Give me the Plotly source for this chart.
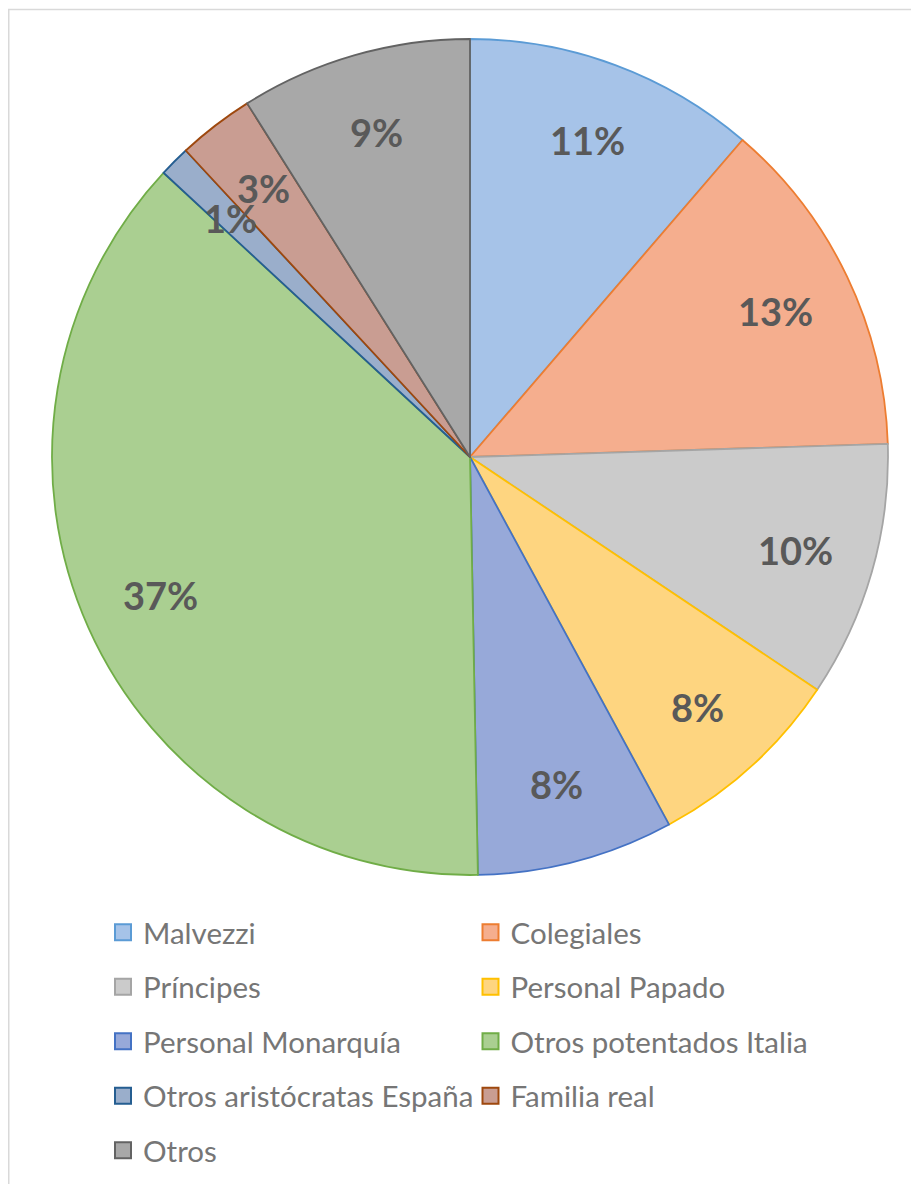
import math

import plotly.graph_objects as go

W, H = 919, 1184

labels = [
    "Malvezzi",
    "Colegiales",
    "Príncipes",
    "Personal Papado",
    "Personal Monarquía",
    "Otros potentados Italia",
    "Otros aristócratas España",
    "Familia real",
    "Otros",
]
values = [11.3, 13.2, 9.9, 7.7, 7.6, 37.2, 1.2, 2.95, 8.95]
fill_colors = [
    "#a6c3e8", "#f5ae8e", "#cbcbcb", "#fed580", "#97a9d9",
    "#aacf91", "#9aaecb", "#c99d92", "#a8a8a8",
]
line_colors = [
    "#5b9bd5", "#ed7d31", "#a5a5a5", "#ffc000", "#4472c4",
    "#70ad47", "#255e91", "#9e480e", "#636363",
]

# page body adds 8px, so positions below are in figure pixels
cx, cy, r = 462, 449, 418
label_r = 0.81

fig = go.Figure()
fig.add_trace(
    go.Pie(
        labels=labels,
        values=values,
        sort=False,
        direction="clockwise",
        rotation=0,
        marker=dict(colors=fill_colors, line=dict(color=line_colors, width=1.8)),
        textinfo="none",
        hoverinfo="skip",
        showlegend=False,
        domain=dict(
            x=[(cx - r) / W, (cx + r) / W],
            y=[1 - (cy + r) / H, 1 - (cy - r) / H],
        ),
    )
)

# Excel style data labels: at the mid angle of each slice, ~0.8 of the radius
total = sum(values)
annotations = []
acc = 0.0
for v in values:
    mid = (acc + v / 2) / total * 2 * math.pi
    acc += v
    px = cx + label_r * r * math.sin(mid)
    py = cy - label_r * r * math.cos(mid)
    annotations.append(
        dict(
            x=px / W,
            y=1 - py / H,
            xref="paper",
            yref="paper",
            text=f"{round(v / total * 100)}%",
            showarrow=False,
            xanchor="center",
            yanchor="middle",
            font=dict(family="Lato", size=38, color="#595959", weight="bold"),
        )
    )

# legend entries, two columns, one legend per entry so rows keep Excel spacing
col_x = [114, 481.5]
row_y = [924.5, 979, 1033.5, 1088, 1142.5]
sym_off = 19
layout_legends = {}
for i, (lab, fc, lc) in enumerate(zip(labels, fill_colors, line_colors)):
    key = "legend" if i == 0 else f"legend{i + 1}"
    fig.add_trace(
        go.Scatter(
            x=[None],
            y=[None],
            mode="markers",
            name=lab,
            marker=dict(symbol="square", size=16, color=fc, line=dict(color=lc, width=2)),
            legend=key,
            showlegend=True,
            hoverinfo="skip",
        )
    )
    layout_legends[key] = dict(
        x=(col_x[i % 2] - sym_off) / W,
        y=1 - row_y[i // 2] / H,
        xanchor="left",
        yanchor="middle",
        bgcolor="rgba(0,0,0,0)",
        font=dict(family="Lato", size=29.5, color="#767676"),
        itemclick=False,
        itemdoubleclick=False,
    )

fig.update_layout(
    width=W,
    height=H,
    margin=dict(l=0, r=0, t=0, b=0),
    paper_bgcolor="white",
    plot_bgcolor="white",
    xaxis=dict(visible=False),
    yaxis=dict(visible=False),
    annotations=annotations,
    shapes=[
        dict(
            type="rect",
            xref="paper",
            yref="paper",
            x0=0.75 / W,
            x1=1.02,
            y0=-0.02,
            y1=1 - 1.5 / H,
            line=dict(color="#d9d9d9", width=1.5),
            fillcolor="rgba(0,0,0,0)",
            layer="below",
        )
    ],
    **layout_legends,
)

fig.write_html("out.html")
